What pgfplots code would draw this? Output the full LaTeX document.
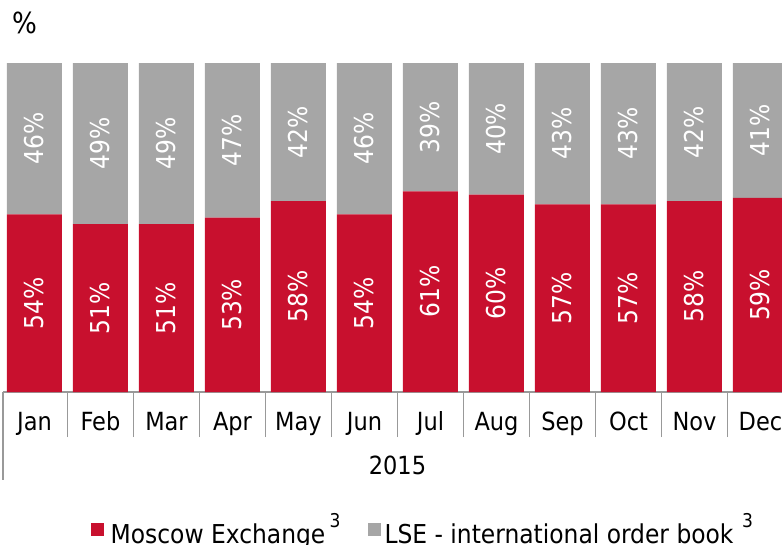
\documentclass[border=0pt]{standalone}
\usepackage{pgfplots}
\pgfplotsset{compat=1.18}
\usepackage{fontspec}
\setmainfont{DejaVu Sans Condensed}
\definecolor{mxred}{HTML}{C8102E}
\definecolor{lsegray}{HTML}{A6A6A6}
\definecolor{axgray}{HTML}{999999}

\begin{document}
\begin{tikzpicture}
\begin{axis}[
  x=33pt, y=1.645pt,
  xmin=-0.477, xmax=11.326, ymin=0, ymax=100,
  ybar stacked, bar width=27.5pt,
  clip=false,
  axis x line*=bottom, axis y line=none,
  axis line style={draw=axgray, line width=1pt},
  ytick=\empty,
  xtick={0,...,11},
  xticklabels={Jan,Feb,Mar,Apr,May,Jun,Jul,Aug,Sep,Oct,Nov,Dec},
  major tick length=0pt,
  xticklabel style={anchor=base, yshift=-19pt, font=\fontsize{12.5}{15}\selectfont},
  extra x ticks={0.5,1.5,...,10.5},
  extra x tick labels={},
  extra x tick style={major tick length=22.5pt, tick align=outside,
    tick style={draw=axgray, line width=0.75pt}},
  /pgf/number format/assume math mode=true,
  point meta=explicit,
  nodes near coords={\pgfmathprintnumber{\pgfplotspointmeta}\%},
  every node near coord/.append style={anchor=center, rotate=90,
    text=white, font=\fontsize{13}{15}\selectfont},
  legend columns=2,
  legend style={at={(axis cs:5.9,-41.9)}, anchor=center, draw=none, fill=none,
    font=\fontsize{13}{15}\selectfont,
    /tikz/every even column/.append style={column sep=11.5pt}},
  legend image code/.code={\fill[#1] (0pt,-3.25pt) rectangle (6.5pt,3.25pt);},
]
\addplot[fill=mxred, draw=none] coordinates {
  (0,54)[54] (1,51)[51] (2,51)[51] (3,53)[53] (4,58)[58] (5,54)[54]
  (6,61)[61] (7,60)[60] (8,57)[57] (9,57)[57] (10,58)[58] (11,59)[59]
};
\addlegendentry{\hspace{1.5pt}Moscow Exchange\,\raisebox{1.1ex}{\fontsize{9.5}{10}\selectfont 3}}
\addplot[fill=lsegray, draw=none] coordinates {
  (0,46)[46] (1,49)[49] (2,49)[49] (3,47)[47] (4,42)[42] (5,46)[46]
  (6,39)[39] (7,40)[40] (8,43)[43] (9,43)[43] (10,42)[42] (11,41)[41]
};
\addlegendentry{LSE - international order book\,\,\raisebox{1.1ex}{\fontsize{9.5}{10}\selectfont 3}}
\draw[axgray, line width=0.75pt] (axis cs:-0.477,0) -- (axis cs:-0.477,-26.7);
\node[font=\fontsize{12.5}{15}\selectfont] at (axis cs:5.5,-22.2) {2015};
\node[font=\fontsize{14.5}{16}\selectfont] at (axis cs:-0.144,112.2) {\%};
\coordinate (BL) at (axis cs:-0.5227,-46.5);
\coordinate (TR) at (axis cs:11.326,119.15);
\end{axis}
\pgfresetboundingbox
\useasboundingbox (BL) rectangle (TR);
\end{tikzpicture}
\end{document}
